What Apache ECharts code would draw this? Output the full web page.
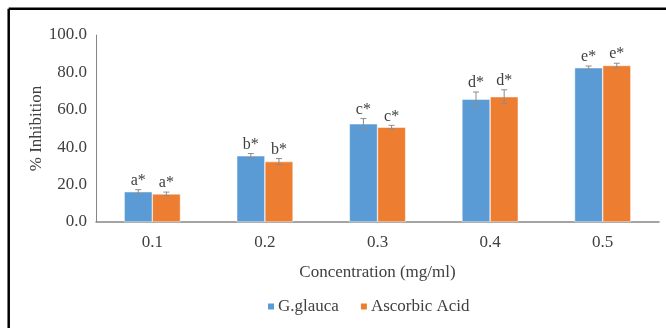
<!DOCTYPE html>
<html>
<head>
<meta charset="utf-8">
<script src="https://cdn.jsdelivr.net/npm/echarts@6/dist/echarts.min.js"></script>
<style>
  html, body { margin: 0; padding: 0; background: #fff; }
  #chart { width: 666px; height: 328px; }
</style>
</head>
<body>
<div id="chart"></div>
<script>
// data
const concentrations = ['0.1', '0.2', '0.3', '0.4', '0.5']
const glaucaValues = [16.2, 35.4, 52.5, 65.7, 82.5]
const glaucaErrors = [1.1, 1.2, 2.8, 3.8, 0.9]
const ascorbicValues = [15.0, 32.3, 50.7, 67.0, 83.7]
const ascorbicErrors = [1.0, 1.6, 1.0, 3.7, 1.2]
const letters = ['a*', 'b*', 'c*', 'd*', 'e*']

const blue = '#5B9BD5'
const orange = '#ED7D31'
const serif = '"Liberation Serif", "Times New Roman", serif'

// side: -1 left bar, +1 right bar
const errorSeries = (name, values, errors, side) => {
  return {
    name: name + '_err',
    type: 'custom',
    z: 5,
    data: values.map((v, i) => [i, v, errors[i]]),
    renderItem: (params, api) => {
      let idx = api.value(0)
      let val = api.value(1)
      let err = api.value(2)
      let catW = api.size([1, 0])[0]
      let bw = catW * 0.25
      let center = api.coord([idx, val])
      let x = center[0] + side * bw / 2
      let top = api.coord([idx, val + err])[1]
      let bottom = api.coord([idx, val - err])[1]
      let style = { stroke: '#8c8c8c', lineWidth: 1 }
      return {
        type: 'group',
        children: [
          { type: 'line', shape: { x1: x, y1: top, x2: x, y2: bottom }, style },
          { type: 'line', shape: { x1: x - 3, y1: top, x2: x + 3, y2: top }, style },
          { type: 'line', shape: { x1: x - 3, y1: bottom, x2: x + 3, y2: bottom }, style },
          {
            type: 'text',
            x: x,
            y: top - 1,
            style: {
              text: letters[idx],
              fill: '#404040',
              font: '16px ' + serif,
              align: 'center',
              verticalAlign: 'bottom'
            }
          }
        ]
      }
    }
  }
}

const chart = echarts.init(document.getElementById('chart'))

chart.setOption({
  animation: false,
  textStyle: { fontFamily: serif },
  graphic: [
    {
      type: 'line',
      shape: { x1: 8.7, y1: 8.7, x2: 666, y2: 8.7 },
      style: { stroke: '#000', lineWidth: 2.5 },
      silent: true
    },
    {
      type: 'line',
      shape: { x1: 8.7, y1: 8.7, x2: 8.7, y2: 328 },
      style: { stroke: '#000', lineWidth: 2.5 },
      silent: true
    }
  ],
  legend: {
    data: ['G.glauca', 'Ascorbic Acid'],
    left: 261,
    top: 293,
    itemWidth: 8,
    itemHeight: 8,
    itemGap: 20,
    icon: 'rect',
    textStyle: { fontFamily: serif, fontSize: 17, color: '#404040', padding: [0, 0, 0, -2] }
  },
  grid: {
    left: 96,
    right: 7,
    top: 35,
    bottom: 106
  },
  xAxis: {
    type: 'category',
    data: concentrations,
    name: 'Concentration (mg/ml)',
    nameLocation: 'middle',
    nameGap: 42,
    nameMoveOverlap: false,
    nameTextStyle: { fontFamily: serif, fontSize: 17, color: '#404040' },
    axisTick: { show: false },
    axisLine: { lineStyle: { color: '#868686', width: 1.5 } },
    axisLabel: { fontFamily: serif, fontSize: 17, color: '#404040', margin: 12 }
  },
  yAxis: {
    type: 'value',
    min: 0,
    max: 100,
    interval: 20,
    name: '% Inhibition',
    nameLocation: 'middle',
    nameGap: 51,
    nameMoveOverlap: false,
    nameRotate: 90,
    nameTextStyle: { fontFamily: serif, fontSize: 17, color: '#404040' },
    splitLine: { show: false },
    axisTick: { show: false },
    axisLine: { show: true, lineStyle: { color: '#868686', width: 1 } },
    axisLabel: {
      fontFamily: serif,
      fontSize: 17,
      color: '#404040',
      margin: 9,
      formatter: v => v.toFixed(1)
    }
  },
  series: [
    {
      name: 'G.glauca',
      type: 'bar',
      data: glaucaValues,
      barWidth: '25%',
      barGap: '0%',
      itemStyle: { color: blue, borderColor: '#fff', borderWidth: 0.5 }
    },
    {
      name: 'Ascorbic Acid',
      type: 'bar',
      data: ascorbicValues,
      barWidth: '25%',
      barGap: '0%',
      itemStyle: { color: orange, borderColor: '#fff', borderWidth: 0.5 }
    },
    errorSeries('G.glauca', glaucaValues, glaucaErrors, -1),
    errorSeries('Ascorbic Acid', ascorbicValues, ascorbicErrors, 1)
  ]
})
</script>
</body>
</html>
